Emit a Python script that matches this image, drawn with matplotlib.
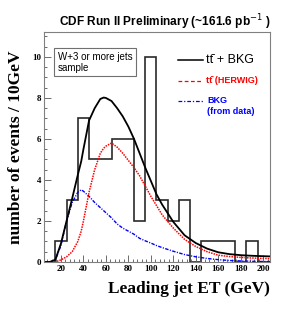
import numpy as np
import matplotlib
matplotlib.use("Agg")
import matplotlib.pyplot as plt
from matplotlib.lines import Line2D
from matplotlib.ticker import MultipleLocator

# histogram: leading jet ET, 10 GeV bins starting at 15 GeV
bin_edges = [15, 25, 35, 45, 55, 65, 75, 85, 95, 105, 115, 125, 135, 145,
             155, 165, 175, 185, 195, 205]
counts = [1, 3, 7, 5, 5, 6, 6, 2, 10, 3, 2, 3, 0, 1, 1, 1, 0, 1, 0]

# fitted shapes
curve_x = [5, 10, 15, 20, 25, 30, 35, 38, 40, 45, 50, 55, 58, 60, 65, 70, 75,
           80, 85, 90, 95, 100, 105, 110, 120, 130, 140, 150, 160, 170, 180,
           190, 200, 206]
tt_bkg = [0.0, 0.0, 0.1, 0.9, 2.0, 3.1, 4.25, 4.9, 5.5, 6.9, 7.5, 7.95, 8.02,
          8.0, 7.85, 7.5, 7.1, 6.6, 6.0, 5.3, 4.6, 3.95, 3.3, 2.8, 1.95, 1.3,
          0.92, 0.65, 0.47, 0.38, 0.33, 0.3, 0.28, 0.27]
tt_herwig = [0.0, 0.0, 0.0, 0.1, 0.25, 0.5, 1.0, 1.5, 2.0, 3.4, 4.5, 5.3, 5.55,
             5.65, 5.8, 5.6, 5.3, 4.95, 4.6, 4.2, 3.7, 3.2, 2.75, 2.3, 1.65,
             1.1, 0.75, 0.5, 0.33, 0.26, 0.22, 0.19, 0.17, 0.16]
bkg_data = [0.0, 0.0, 0.1, 0.8, 2.0, 2.9, 3.4, 3.52, 3.45, 3.2, 2.9, 2.65, 2.5,
            2.4, 2.15, 1.85, 1.65, 1.5, 1.35, 1.15, 1.03, 0.92, 0.8, 0.7, 0.52,
            0.36, 0.25, 0.17, 0.11, 0.07, 0.05, 0.03, 0.02, 0.02]

plt.rcParams['font.family'] = ['Liberation Serif', 'DejaVu Serif']
sans = ['Liberation Sans', 'DejaVu Sans']

fig = plt.figure(figsize=(3.0, 3.27), dpi=100)
ax = fig.add_axes([0.147, 0.199, 0.753, 0.702])

# data histogram
ax.stairs(counts, bin_edges, color='#2a2a2a', linewidth=1.2)

# curves
ax.plot(curve_x, bkg_data, color='blue', linewidth=1.0, linestyle=(0, (2.5, 1, 0.8, 1)))
ax.plot(curve_x, tt_herwig, color='red', linewidth=1.1, linestyle=(0, (1, 0.7)))
ax.plot(curve_x, tt_bkg, color='black', linewidth=1.3)

ax.set_xlim(5, 206)
ax.set_ylim(0, 11.2)
ax.xaxis.set_major_locator(MultipleLocator(20))
ax.xaxis.set_minor_locator(MultipleLocator(4))
ax.yaxis.set_major_locator(MultipleLocator(2))
ax.yaxis.set_minor_locator(MultipleLocator(0.5))
ax.tick_params(which='both', direction='in', labelsize=6.5, width=0.6,
               color='#555555', pad=2)
ax.tick_params(which='major', length=5)
ax.tick_params(which='minor', length=2.5)
for lbl in ax.get_xticklabels() + ax.get_yticklabels():
    lbl.set_fontweight('bold')
for sp in ax.spines.values():
    sp.set_color('#808080')
    sp.set_linewidth(0.8)

ax.set_ylabel('number of events / 10GeV', fontsize=12.5, fontweight='bold',
              labelpad=6)
ax.set_xlabel('Leading jet ET (GeV)', fontsize=12.5, fontweight='bold',
              loc='right', labelpad=6)

fig.text(0.55, 0.932, r'CDF Run II Preliminary (~161.6 pb$^{-1}$ )',
         ha='center', va='center', fontsize=8.6, fontweight='bold',
         family=sans)

# sample box
ax.text(0.06, 0.915, 'W+3 or more jets\nsample', transform=ax.transAxes,
        ha='left', va='top', fontsize=7, linespacing=1.1, family=sans,
        bbox=dict(boxstyle='square,pad=0.35', facecolor='white',
                  edgecolor='#707070', linewidth=0.8))

# legend drawn by hand
ax.add_line(Line2D([0.593, 0.704], [0.879, 0.879], transform=ax.transAxes,
                   color='black', linewidth=1.1))
ax.text(0.715, 0.879, 'tt\u0304 + BKG', transform=ax.transAxes, ha='left',
        va='center', fontsize=9, family=sans)
ax.add_line(Line2D([0.593, 0.704], [0.790, 0.790], transform=ax.transAxes,
                   color='red', linewidth=0.9, linestyle=(0, (3, 2))))
ax.text(0.715, 0.790, 'tt\u0304 (HERWIG)', transform=ax.transAxes, ha='left',
        va='center', fontsize=6.5, fontweight='bold', color='red', family=sans)
ax.add_line(Line2D([0.593, 0.704], [0.703, 0.703], transform=ax.transAxes,
                   color='blue', linewidth=0.9, linestyle=(0, (3, 1.5, 1, 1.5))))
ax.text(0.722, 0.703, 'BKG', transform=ax.transAxes, ha='left',
        va='center', fontsize=6.5, fontweight='bold', color='blue', family=sans)
ax.text(0.722, 0.655, '(from data)', transform=ax.transAxes, ha='left',
        va='center', fontsize=6.5, fontweight='bold', color='blue', family=sans)

fig.savefig('out.png', dpi=100)
